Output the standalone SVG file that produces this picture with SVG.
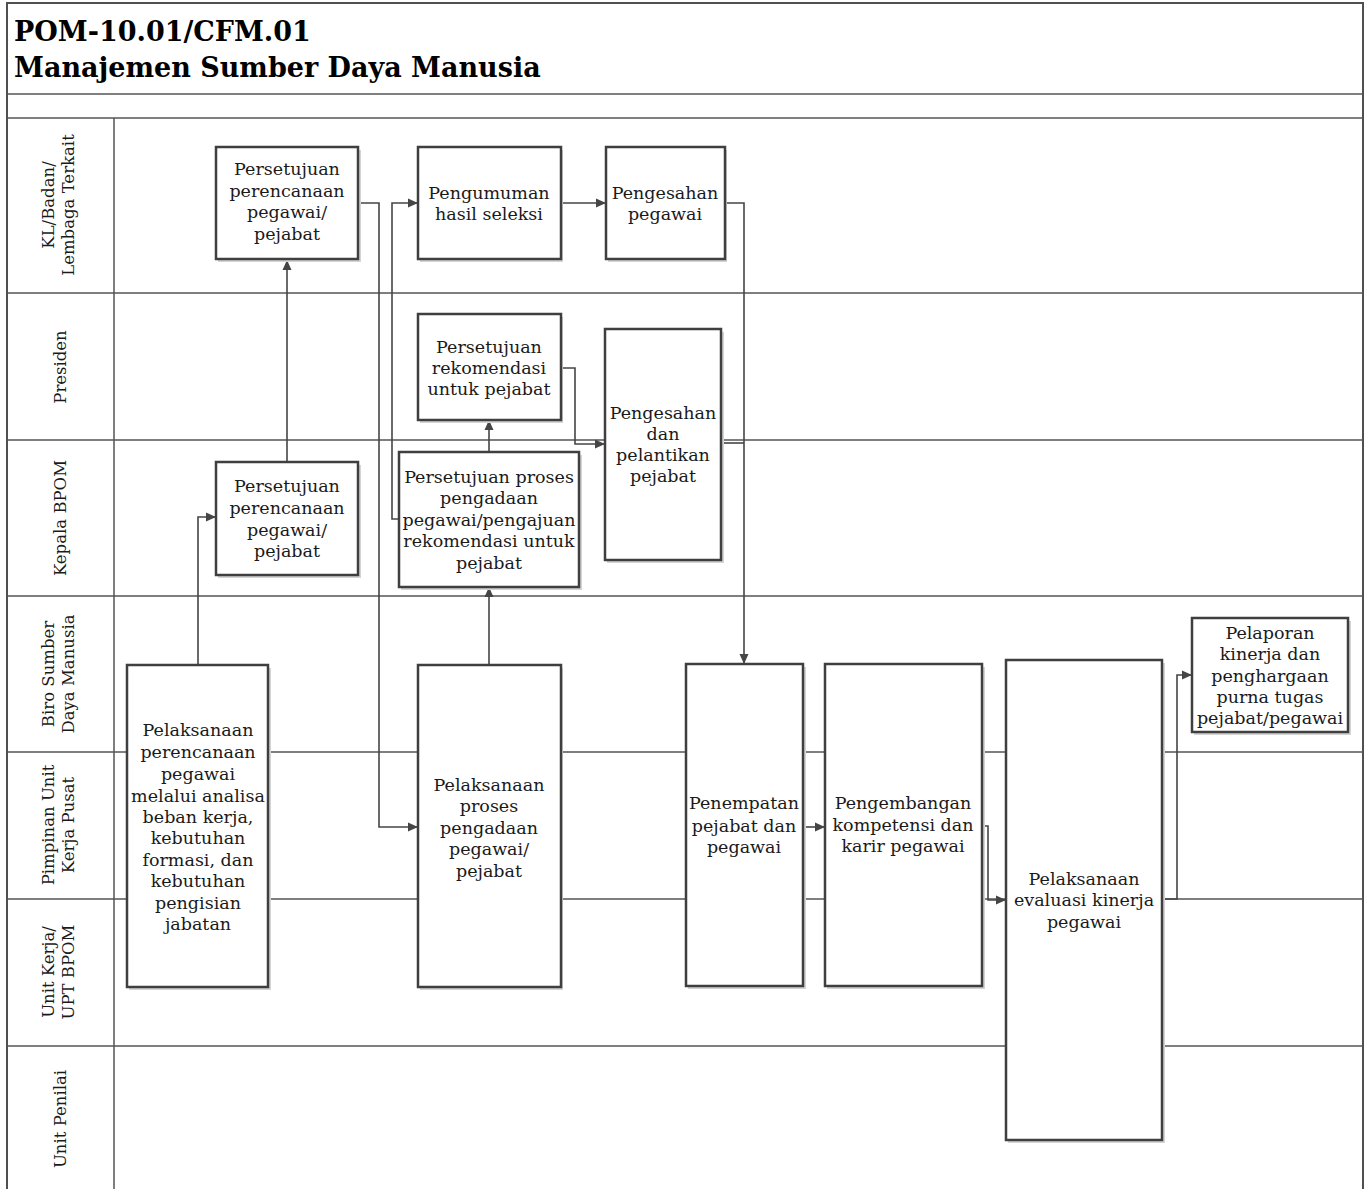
<svg xmlns="http://www.w3.org/2000/svg" width="1369" height="1189" viewBox="0 0 1369 1189">
  <style>
    .frame { fill: none; stroke: #505050; stroke-width: 2; }
    .lane { fill: none; stroke: #555555; stroke-width: 1.5; }
    .box { fill: #ffffff; stroke: #3f3f3f; stroke-width: 2.5; }
    .shadow { fill: #d4d4d4; }
    .txt { font-family: "DejaVu Serif", "Liberation Serif", serif; font-size: 17.5px; fill: #1a1a1a; text-anchor: middle; }
    .lbl { font-size: 16.5px; }
    .title { font-family: "DejaVu Serif", "Liberation Serif", serif; font-size: 27px; font-weight: bold; fill: #000000; }
    .conn { fill: none; stroke: #454545; stroke-width: 1.6; }
  </style>
  <defs>
    <marker id="arr" viewBox="0 0 10 10" refX="10" refY="5" markerWidth="10" markerHeight="10" markerUnits="userSpaceOnUse" orient="auto">
      <path d="M0,0.5 L10,5 L0,9.5 Z" fill="#454545"/>
    </marker>
  </defs>

  <rect width="1369" height="1189" fill="#ffffff"/>

  <!-- outer frame and header -->
  <g id="frame">
    <path class="frame" d="M7,1189 V3 H1363 V1189"/>
    <line class="lane" x1="7" y1="94" x2="1363" y2="94"/>
    <line class="lane" x1="7" y1="118" x2="1363" y2="118"/>
    <line class="lane" x1="114" y1="118" x2="114" y2="1189"/>
    <text class="title" x="14" y="41">POM-10.01/CFM.01</text>
    <text class="title" x="14" y="77">Manajemen Sumber Daya Manusia</text>
  </g>

  <!-- swimlane separators -->
  <g id="lanes">
    <line class="lane" x1="7" y1="293" x2="1363" y2="293"/>
    <line class="lane" x1="7" y1="440" x2="1363" y2="440"/>
    <line class="lane" x1="7" y1="596" x2="1363" y2="596"/>
    <line class="lane" x1="7" y1="752" x2="1363" y2="752"/>
    <line class="lane" x1="7" y1="899" x2="1363" y2="899"/>
    <line class="lane" x1="7" y1="1046" x2="1363" y2="1046"/>
  </g>

  <!-- lane labels -->
  <g id="lane-labels" class="txt lbl">
    <text transform="translate(54,205) rotate(-90)">KL/Badan/</text>
    <text transform="translate(74,205) rotate(-90)">Lembaga Terkait</text>
    <text transform="translate(66,367) rotate(-90)">Presiden</text>
    <text transform="translate(66,518) rotate(-90)">Kepala BPOM</text>
    <text transform="translate(54,674) rotate(-90)">Biro Sumber</text>
    <text transform="translate(74,674) rotate(-90)">Daya Manusia</text>
    <text transform="translate(54,825) rotate(-90)">Pimpinan Unit</text>
    <text transform="translate(74,825) rotate(-90)">Kerja Pusat</text>
    <text transform="translate(54,972) rotate(-90)">Unit Kerja/</text>
    <text transform="translate(74,972) rotate(-90)">UPT BPOM</text>
    <text transform="translate(66,1119) rotate(-90)">Unit Penilai</text>
  </g>

  <!-- connectors -->
  <g id="connectors">
    <path class="conn" d="M198,665 V517 H216" marker-end="url(#arr)"/>
    <path class="conn" d="M287,462 V260" marker-end="url(#arr)"/>
    <path class="conn" d="M358,203 H379 V827 H418" marker-end="url(#arr)"/>
    <path class="conn" d="M489,665 V587" marker-end="url(#arr)"/>
    <path class="conn" d="M489,452 V420" marker-end="url(#arr)"/>
    <path class="conn" d="M399,519 H392 V203 H418" marker-end="url(#arr)"/>
    <path class="conn" d="M561,203 H606" marker-end="url(#arr)"/>
    <path class="conn" d="M561,368 H575 V444 H605" marker-end="url(#arr)"/>
    <path class="conn" d="M725,203 H744 V664" marker-end="url(#arr)"/>
    <path class="conn" d="M721,443 H744"/>
    <path class="conn" d="M803,827 H825" marker-end="url(#arr)"/>
    <path class="conn" d="M982,826 H988 V900 H1006" marker-end="url(#arr)"/>
    <path class="conn" d="M1162,899 H1177 V675 H1192" marker-end="url(#arr)"/>
  </g>

  <!-- process boxes -->
  <g id="n-kl-persetujuan">
    <rect class="shadow" x="218" y="150" width="143" height="112"/>
    <rect class="box" x="216" y="147" width="142" height="112"/>
    <text class="txt"><tspan x="287" y="175">Persetujuan</tspan><tspan x="287" y="197">perencanaan</tspan><tspan x="287" y="218">pegawai/</tspan><tspan x="287" y="240">pejabat</tspan></text>
  </g>
  <g id="n-pengumuman">
    <rect class="shadow" x="420" y="150" width="143" height="112"/>
    <rect class="box" x="418" y="147" width="143" height="112"/>
    <text class="txt"><tspan x="489" y="199">Pengumuman</tspan><tspan x="489" y="220">hasil seleksi</tspan></text>
  </g>
  <g id="n-pengesahan-pegawai">
    <rect class="shadow" x="608" y="150" width="119" height="112"/>
    <rect class="box" x="606" y="147" width="119" height="112"/>
    <text class="txt"><tspan x="665" y="199">Pengesahan</tspan><tspan x="665" y="220">pegawai</tspan></text>
  </g>
  <g id="n-persetujuan-rekomendasi">
    <rect class="shadow" x="420" y="317" width="143" height="106"/>
    <rect class="box" x="418" y="314" width="143" height="106"/>
    <text class="txt"><tspan x="489" y="353">Persetujuan</tspan><tspan x="489" y="374">rekomendasi</tspan><tspan x="489" y="395">untuk pejabat</tspan></text>
  </g>
  <g id="n-pengesahan-pelantikan">
    <rect class="shadow" x="607" y="332" width="117" height="231"/>
    <rect class="box" x="605" y="329" width="116" height="231"/>
    <text class="txt"><tspan x="663" y="419">Pengesahan</tspan><tspan x="663" y="440">dan</tspan><tspan x="663" y="461">pelantikan</tspan><tspan x="663" y="482">pejabat</tspan></text>
  </g>
  <g id="n-kepala-persetujuan">
    <rect class="shadow" x="218" y="465" width="143" height="113"/>
    <rect class="box" x="216" y="462" width="142" height="113"/>
    <text class="txt"><tspan x="287" y="492">Persetujuan</tspan><tspan x="287" y="514">perencanaan</tspan><tspan x="287" y="536">pegawai/</tspan><tspan x="287" y="557">pejabat</tspan></text>
  </g>
  <g id="n-persetujuan-proses">
    <rect class="shadow" x="401" y="455" width="181" height="135"/>
    <rect class="box" x="399" y="452" width="180" height="135"/>
    <text class="txt"><tspan x="489" y="483">Persetujuan proses</tspan><tspan x="489" y="504">pengadaan</tspan><tspan x="489" y="526">pegawai/pengajuan</tspan><tspan x="489" y="547">rekomendasi untuk</tspan><tspan x="489" y="569">pejabat</tspan></text>
  </g>
  <g id="n-pelaksanaan-perencanaan">
    <rect class="shadow" x="129" y="668" width="142" height="322"/>
    <rect class="box" x="127" y="665" width="141" height="322"/>
    <text class="txt"><tspan x="198" y="736">Pelaksanaan</tspan><tspan x="198" y="758">perencanaan</tspan><tspan x="198" y="780">pegawai</tspan><tspan x="198" y="802">melalui analisa</tspan><tspan x="198" y="823">beban kerja,</tspan><tspan x="198" y="844">kebutuhan</tspan><tspan x="198" y="866">formasi, dan</tspan><tspan x="198" y="887">kebutuhan</tspan><tspan x="198" y="909">pengisian</tspan><tspan x="198" y="930">jabatan</tspan></text>
  </g>
  <g id="n-pelaksanaan-pengadaan">
    <rect class="shadow" x="420" y="668" width="143" height="322"/>
    <rect class="box" x="418" y="665" width="143" height="322"/>
    <text class="txt"><tspan x="489" y="791">Pelaksanaan</tspan><tspan x="489" y="812">proses</tspan><tspan x="489" y="834">pengadaan</tspan><tspan x="489" y="855">pegawai/</tspan><tspan x="489" y="877">pejabat</tspan></text>
  </g>
  <g id="n-penempatan">
    <rect class="shadow" x="688" y="667" width="118" height="322"/>
    <rect class="box" x="686" y="664" width="117" height="322"/>
    <text class="txt"><tspan x="744" y="809">Penempatan</tspan><tspan x="744" y="832">pejabat dan</tspan><tspan x="744" y="853">pegawai</tspan></text>
  </g>
  <g id="n-pengembangan">
    <rect class="shadow" x="827" y="667" width="158" height="322"/>
    <rect class="box" x="825" y="664" width="157" height="322"/>
    <text class="txt"><tspan x="903" y="809">Pengembangan</tspan><tspan x="903" y="831">kompetensi dan</tspan><tspan x="903" y="852">karir pegawai</tspan></text>
  </g>
  <g id="n-evaluasi">
    <rect class="shadow" x="1008" y="663" width="157" height="480"/>
    <rect class="box" x="1006" y="660" width="156" height="480"/>
    <text class="txt"><tspan x="1084" y="885">Pelaksanaan</tspan><tspan x="1084" y="906">evaluasi kinerja</tspan><tspan x="1084" y="928">pegawai</tspan></text>
  </g>
  <g id="n-pelaporan">
    <rect class="shadow" x="1194" y="621" width="157" height="114"/>
    <rect class="box" x="1192" y="618" width="156" height="114"/>
    <text class="txt"><tspan x="1270" y="639">Pelaporan</tspan><tspan x="1270" y="660">kinerja dan</tspan><tspan x="1270" y="682">penghargaan</tspan><tspan x="1270" y="703">purna tugas</tspan><tspan x="1270" y="724">pejabat/pegawai</tspan></text>
  </g>
</svg>
